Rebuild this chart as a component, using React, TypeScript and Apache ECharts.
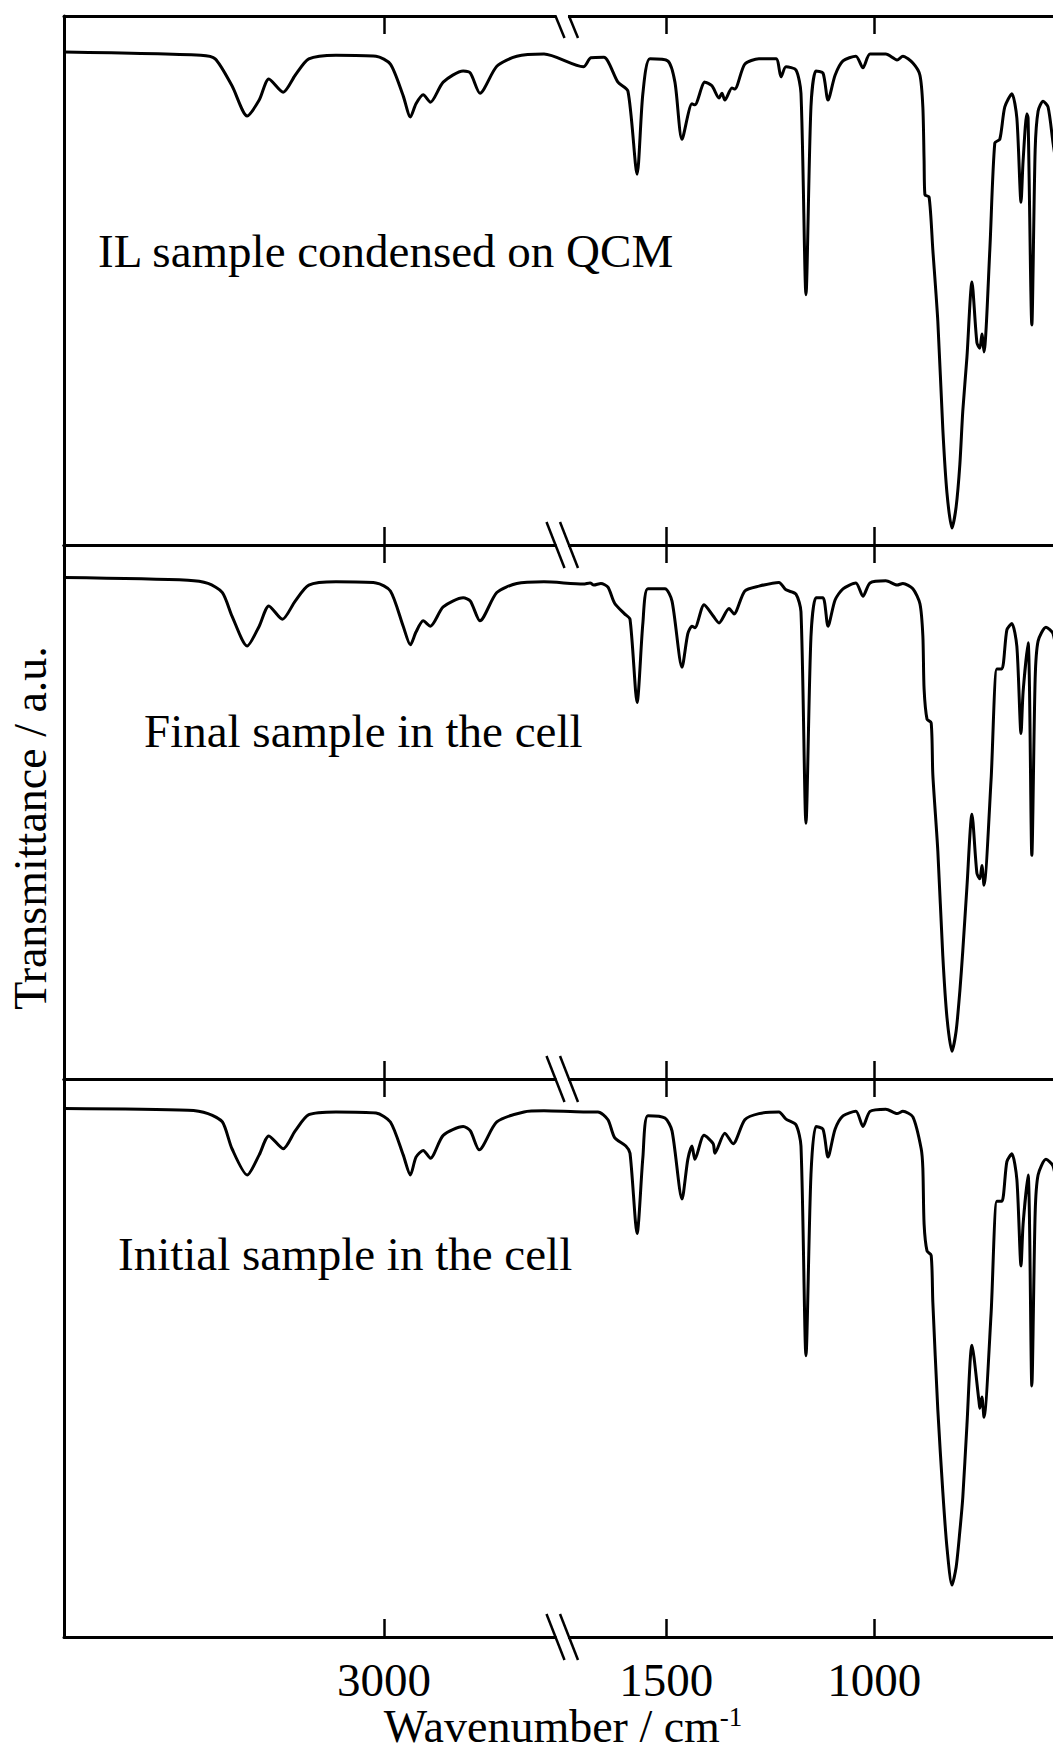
import React, { useEffect, useRef } from "react";
import * as echarts from "echarts";

// ---------- data (wavenumber cm-1, transmittance a.u. in % of panel) ----------
const xTickLabels = [3000, 1500, 1000];
const panelLabels = [
  "IL sample condensed on QCM",
  "Final sample in the cell",
  "Initial sample in the cell",
];

const ilOnQcm: number[][] = [
  [3400, 93.2], [3229, 92.6], [3211, 91.9], [3190, 86.8], [3171, 81.1], [3156, 84.1], [3144, 88.1],
  [3126, 85.6], [3111, 88.8], [3094, 91.9], [3060, 92.6], [3010, 92.4], [2992, 90.9], [2976, 84.9],
  [2967, 80.9], [2960, 83.4], [2951, 85.1], [2942, 83.7], [2926, 87.5], [2901, 89.6], [2892, 89.2],
  [2880, 85.4], [2859, 90.5], [2834, 92.4], [2800, 92.8],
  [1699, 90.4], [1681, 92.1], [1650, 92.2], [1616, 87.5], [1592, 85.8], [1570, 70.1], [1556, 85.4],
  [1539, 91.9], [1496, 91.5], [1479, 87.5], [1462, 76.7], [1438, 83.4], [1431, 83.2], [1407, 87.5],
  [1390, 86.8], [1373, 84.5], [1366, 85.4], [1359, 84.1], [1342, 86.4], [1335, 86.2], [1311, 90.9],
  [1277, 91.9], [1236, 91.9], [1224, 88.5], [1212, 90.4], [1188, 89.8], [1176, 85.4], [1164, 47.3],
  [1152, 82.8], [1140, 89.6], [1123, 89.2], [1111, 84.1], [1094, 88.8], [1075, 91.5], [1044, 92.4],
  [1027, 90.2], [1010, 92.8], [972, 92.8], [945, 91.7], [931, 92.4], [907, 91.1], [890, 88.8],
  [883, 82.8], [880, 72.6], [878, 66.2], [868, 65.8], [859, 55.8], [847, 42.3], [835, 21.9],
  [825, 9.8], [813, 3.2], [803, 7.2], [794, 15.3], [787, 25.3], [777, 35.5], [765, 49.7],
  [753, 38.2], [746, 37.2], [741, 39.9], [736, 36.5], [722, 55.8], [710, 76.0], [698, 76.7],
  [686, 82.8], [669, 85.3], [657, 80.7], [647, 64.8], [642, 72.6], [633, 81.5], [630, 80.7],
  [621, 41.6], [613, 74.7], [606, 82.0], [594, 83.9], [582, 82.8], [570, 76.0], [555, 68.0],
];

const finalInCell: number[][] = [
  [3400, 93.9], [3245, 93.4], [3220, 92.8], [3202, 91.1], [3190, 86.7], [3171, 81.1], [3156, 84.8],
  [3144, 88.6], [3127, 86.1], [3111, 89.5], [3094, 92.5], [3060, 93.1], [3010, 92.9], [2992, 91.4],
  [2976, 84.8], [2967, 81.3], [2960, 83.7], [2951, 85.8], [2942, 84.8], [2926, 88.4], [2901, 90.1],
  [2892, 89.5], [2880, 85.8], [2859, 91.1], [2834, 92.8], [2800, 93.1],
  [1699, 92.7], [1683, 92.9], [1674, 92.5], [1657, 92.8], [1640, 92.1], [1624, 89.1], [1600, 87.1],
  [1587, 86.1], [1570, 70.5], [1556, 85.4], [1544, 91.8], [1503, 91.8], [1486, 89.5], [1462, 77.1],
  [1448, 83.4], [1438, 84.8], [1431, 84.5], [1409, 88.8], [1387, 86.7], [1373, 85.4], [1349, 88.1],
  [1337, 87.1], [1311, 91.4], [1277, 92.3], [1229, 93.0], [1212, 91.6], [1188, 90.8], [1176, 87.5],
  [1164, 47.9], [1152, 82.8], [1140, 90.1], [1123, 90.1], [1111, 84.8], [1094, 89.7], [1075, 91.8],
  [1044, 92.9], [1027, 90.4], [1010, 92.9], [972, 93.3], [945, 92.5], [931, 92.8], [907, 91.8],
  [890, 89.0], [883, 83.0], [880, 73.0], [873, 67.4], [863, 66.7], [859, 57.0], [847, 42.7],
  [835, 23.0], [825, 11.5], [813, 5.2], [803, 9.0], [794, 16.5], [787, 24.0], [777, 36.0],
  [765, 49.6], [753, 38.5], [746, 37.5], [741, 40.0], [736, 36.3], [719, 56.0], [705, 76.8],
  [693, 76.8], [681, 84.1], [669, 85.3], [657, 81.0], [647, 64.7], [642, 72.5], [630, 81.7],
  [621, 41.9], [613, 75.0], [606, 82.0], [587, 84.6], [570, 83.4], [555, 76.0],
];

const initialInCell: number[][] = [
  [3400, 94.7], [3245, 94.4], [3220, 93.8], [3202, 92.3], [3190, 87.5], [3171, 82.8], [3156, 86.4],
  [3144, 89.8], [3126, 87.5], [3111, 90.7], [3094, 93.6], [3060, 94.1], [3010, 93.9], [2992, 92.3],
  [2976, 86.4], [2967, 82.8], [2960, 86.0], [2951, 87.2], [2942, 85.8], [2926, 89.9], [2901, 91.5],
  [2892, 90.7], [2881, 87.3], [2859, 92.3], [2825, 94.1], [2800, 94.3],
  [1699, 94.1], [1664, 94.1], [1640, 92.7], [1624, 89.5], [1597, 88.0], [1587, 86.7], [1570, 72.3],
  [1556, 86.0], [1544, 93.4], [1503, 93.0], [1486, 90.7], [1462, 78.5], [1448, 85.6], [1438, 88.0],
  [1431, 85.6], [1409, 89.9], [1387, 88.4], [1383, 86.7], [1359, 90.3], [1339, 88.4], [1311, 92.7],
  [1277, 93.8], [1229, 94.1], [1212, 92.8], [1188, 91.8], [1176, 88.0], [1164, 50.4], [1152, 82.8],
  [1140, 91.5], [1123, 91.0], [1111, 86.0], [1094, 91.0], [1075, 93.4], [1044, 94.2], [1027, 91.5],
  [1010, 94.2], [972, 94.6], [945, 93.8], [931, 94.2], [907, 93.2], [887, 87.5], [883, 84.0],
  [880, 74.0], [873, 69.2], [863, 68.4], [859, 60.0], [847, 40.7], [835, 26.0], [825, 16.0],
  [813, 9.3], [803, 12.5], [794, 19.0], [787, 25.0], [777, 38.0], [765, 52.3], [748, 42.2],
  [746, 41.0], [741, 43.0], [736, 39.4], [719, 57.9], [705, 78.1], [693, 78.1], [681, 85.2],
  [669, 86.6], [657, 82.0], [647, 66.5], [642, 74.0], [630, 82.8], [621, 45.0], [613, 76.0],
  [606, 82.8], [587, 85.6], [570, 84.4], [555, 78.0],
];

const spectra = [ilOnQcm, finalInCell, initialInCell];

// ---------- broken wavenumber axis: 3400-2800 | 1700-500 ----------
const LEFT_MAX = 3400;
const LEFT_SCALE = 1.25; // cm-1 per unit
const RIGHT_START = 1700;
const RIGHT_OFFSET = 519;
const RIGHT_SCALE = 2.404;
const RIGHT_MIN = 500;
const toU = (wn: number) =>
  wn > 2000 ? (LEFT_MAX - wn) / LEFT_SCALE : RIGHT_OFFSET + (RIGHT_START - wn) / RIGHT_SCALE;
const U_MAX = toU(RIGHT_MIN);
const BREAK_U = [491.5, 505];

const FONT = "'Liberation Serif', 'Times New Roman', serif";

const GRID_TOPS = [16, 545, 1079];
const GRID_HEIGHTS = [529, 534, 558];
const GRID_LEFT = 64;

export default function App() {
  const ref = useRef<HTMLDivElement>(null);

  useEffect(() => {
    if (!ref.current) return;
    const chart = echarts.init(ref.current, undefined, { renderer: "svg" });
    const tickU = xTickLabels.map(toU);
    const labelFor = (v: number) => {
      const i = tickU.findIndex((t) => Math.abs(t - v) < 0.5);
      return i >= 0 ? String(xTickLabels[i]) : "";
    };

    const grids = GRID_TOPS.map((top, i) => ({
      left: GRID_LEFT,
      top,
      width: U_MAX,
      height: GRID_HEIGHTS[i],
    }));

    const xAxes: any[] = [];
    GRID_TOPS.forEach((_, i) => {
      ["bottom", "top"].forEach((pos) => {
        const showLabel = pos === "bottom" && i === 2;
        xAxes.push({
          gridIndex: i,
          type: "value",
          position: pos,
          min: 0,
          max: U_MAX,
          axisLine: { show: true, onZero: false, lineStyle: { color: "#000", width: 3 } },
          axisTick: {
            show: true,
            inside: true,
            length: 18,
            customValues: tickU,
            lineStyle: { color: "#000", width: 2.5 },
          },
          axisLabel: {
            show: showLabel,
            customValues: tickU,
            formatter: labelFor,
            margin: 19,
            fontSize: 47,
            fontFamily: FONT,
            color: "#000",
          },
          splitLine: { show: false },
          name: showLabel ? "Wavenumber / cm{sup|-1}" : "",
          nameLocation: "middle",
          nameGap: 66,
          nameTextStyle: {
            fontSize: 46,
            fontFamily: FONT,
            color: "#000",
            padding: [0, 20, 0, 0],
            rich: {
              sup: { fontSize: 27, fontFamily: FONT, color: "#000", verticalAlign: "top", lineHeight: 46 },
            },
          },
        });
      });
    });

    const yAxes = GRID_TOPS.map((_, i) => ({
      gridIndex: i,
      type: "value",
      min: 0,
      max: 100,
      axisLine: { show: true, onZero: false, lineStyle: { color: "#000", width: 3 } },
      axisTick: { show: false },
      axisLabel: { show: false },
      splitLine: { show: false },
    }));

    const series = spectra.map((d, i) => ({
      type: "line",
      xAxisIndex: i * 2,
      yAxisIndex: i,
      data: d.map(([wn, t]) => [toU(wn), t]),
      showSymbol: false,
      smooth: 0.25,
      lineStyle: { color: "#000", width: 3 },
    }));

    chart.setOption({
      animation: false,
      backgroundColor: "#fff",
      grid: grids,
      xAxis: xAxes,
      yAxis: yAxes,
      series,
    });

    // break marks and labels
    const graphic: any[] = [];
    const xb = BREAK_U.map((u) => chart.convertToPixel({ xAxisIndex: 0 }, u) as number);
    const lineYs: { y: number; half: boolean }[] = [];
    GRID_TOPS.forEach((_, i) => {
      const top = chart.convertToPixel({ yAxisIndex: i }, 100) as number;
      const bottom = chart.convertToPixel({ yAxisIndex: i }, 0) as number;
      if (i === 0) lineYs.push({ y: top, half: true });
      lineYs.push({ y: bottom, half: false });
    });
    lineYs.forEach(({ y, half }) => {
      graphic.push({
        type: "rect",
        z: 100,
        shape: { x: xb[0] + 1, y: y - 4, width: xb[1] - xb[0] - 2, height: 8 },
        style: { fill: "#fff" },
      });
      xb.forEach((x) => {
        graphic.push({
          type: "line",
          z: 101,
          shape: half
            ? { x1: x, y1: y, x2: x + 9, y2: y + 22 }
            : { x1: x - 9, y1: y - 23, x2: x + 9, y2: y + 23 },
          style: { stroke: "#000", lineWidth: 2.5 },
        });
      });
    });

    const labelPos = [
      { x: 98, y: 251 },
      { x: 144, y: 731 },
      { x: 118, y: 1254 },
    ];
    panelLabels.forEach((t, i) => {
      graphic.push({
        type: "text",
        z: 102,
        x: labelPos[i].x,
        y: labelPos[i].y,
        style: {
          text: t,
          fontSize: 47,
          fontFamily: FONT,
          fill: "#000",
          align: "left",
          verticalAlign: "middle",
        },
      });
    });
    graphic.push({
      type: "text",
      z: 102,
      x: 30,
      y: 828,
      rotation: Math.PI / 2,
      style: {
        text: "Transmittance / a.u.",
        fontSize: 46,
        fontFamily: FONT,
        fill: "#000",
        align: "center",
        verticalAlign: "middle",
      },
    });

    chart.setOption({ graphic });

    return () => chart.dispose();
  }, []);

  return (
    <div
      style={{
        position: "absolute",
        left: 0,
        top: 0,
        width: 1053,
        height: 1754,
        overflow: "hidden",
        background: "#fff",
      }}
    >
      <div ref={ref} style={{ width: 1100, height: 1754 }} />
    </div>
  );
}
